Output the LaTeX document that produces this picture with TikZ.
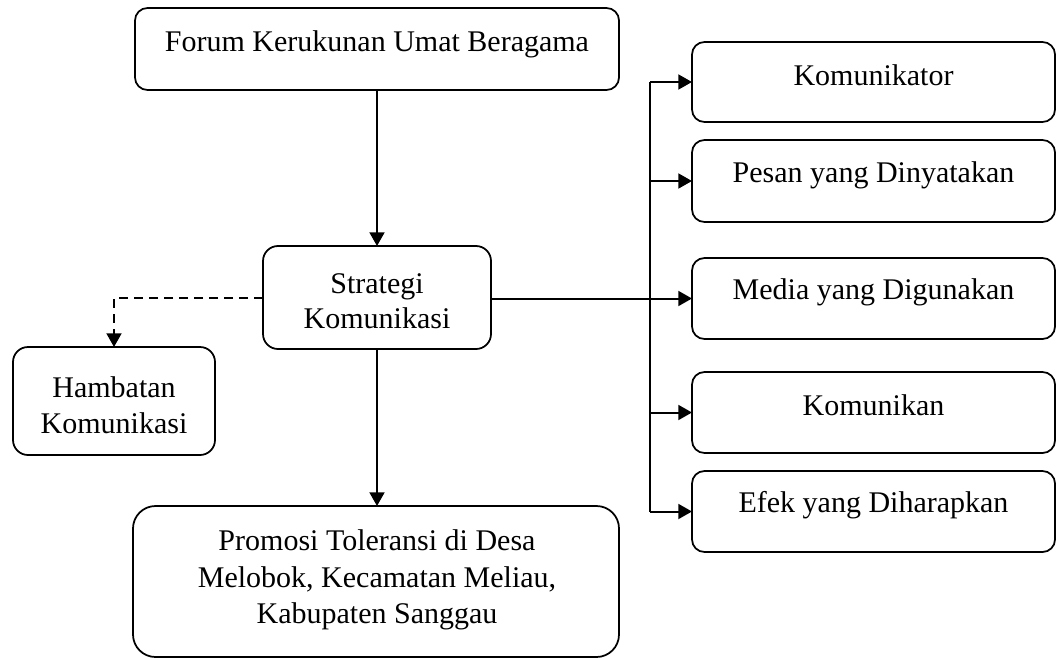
\documentclass[tikz,border=0pt]{standalone}
\usepackage{fontspec}
\setmainfont{Liberation Serif}
\usetikzlibrary{arrows.meta,calc}
\begin{document}
\begin{tikzpicture}[x=0.4pt,y=-0.4pt,
  box/.style={draw,line width=0.7pt,rounded corners=5pt,inner sep=0pt,outer sep=0pt},
  txt/.style={font=\fontsize{12}{14.2}\selectfont,align=center,inner sep=0pt},
  line/.style={line width=0.8pt},
  arr/.style={line width=0.8pt,-{Triangle[length=5.5pt,width=6pt]}},
  darr/.style={line width=0.8pt,dash pattern=on 3.6pt off 2.4pt,-{Triangle[length=5.5pt,width=6pt]}}]
\useasboundingbox (0,0) rectangle (1057,659);
% boxes
\node[box,minimum width=193.6pt,minimum height=32.8pt] (fkub) at (377,49) {};
\node[txt] at (377,44) {Forum Kerukunan Umat Beragama};
\node[box,minimum width=91.2pt,minimum height=41.2pt,rounded corners=6pt] (strat) at (377,297.5) {};
\node[txt] at (377,301) {Strategi\\Komunikasi};
\node[box,minimum width=80.8pt,minimum height=43.2pt,rounded corners=6pt] (hamb) at (114,401) {};
\node[txt] at (114,405) {Hambatan\\Komunikasi};
\node[box,minimum width=194.4pt,minimum height=60.4pt,rounded corners=9pt] (prom) at (376,581.5) {};
\node[txt,font=\fontsize{12}{14.6}\selectfont] at (377,580) {Promosi Toleransi di Desa\\Melobok, Kecamatan Meliau,\\Kabupaten Sanggau};
\node[box,minimum width=145.2pt,minimum height=32pt] (kom) at (873.5,82) {};
\node[txt] at (873.5,75) {Komunikator};
\node[box,minimum width=145.2pt,minimum height=32.8pt] (pes) at (873.5,181) {};
\node[txt] at (873.5,175) {Pesan yang Dinyatakan};
\node[box,minimum width=145.2pt,minimum height=32.4pt] (med) at (873.5,298.5) {};
\node[txt] at (873.5,292) {Media yang Digunakan};
\node[box,minimum width=145.2pt,minimum height=32.4pt] (kmn) at (873.5,412.5) {};
\node[txt] at (873.5,405) {Komunikan};
\node[box,minimum width=145.2pt,minimum height=32.4pt] (efk) at (873.5,511.5) {};
\node[txt] at (873.5,505) {Efek yang Diharapkan};
% connectors
\coordinate (tr) at (650,297);
\coordinate (dl) at (114,298);
\draw[arr] (fkub.south) -- (strat.north);
\draw[arr] (strat.south) -- (prom.north -| strat.south);
\draw[darr] (strat.west |- dl) -- (dl) -- (hamb.north);
\draw[arr] (strat.east |- med.west) -- (med.west);
\draw[line] (kom.west -| tr) -- (efk.west -| tr);
\draw[arr] (kom.west -| tr) -- (kom.west);
\draw[arr] (pes.west -| tr) -- (pes.west);
\draw[arr] (kmn.west -| tr) -- (kmn.west);
\draw[arr] (efk.west -| tr) -- (efk.west);
\end{tikzpicture}
\end{document}
